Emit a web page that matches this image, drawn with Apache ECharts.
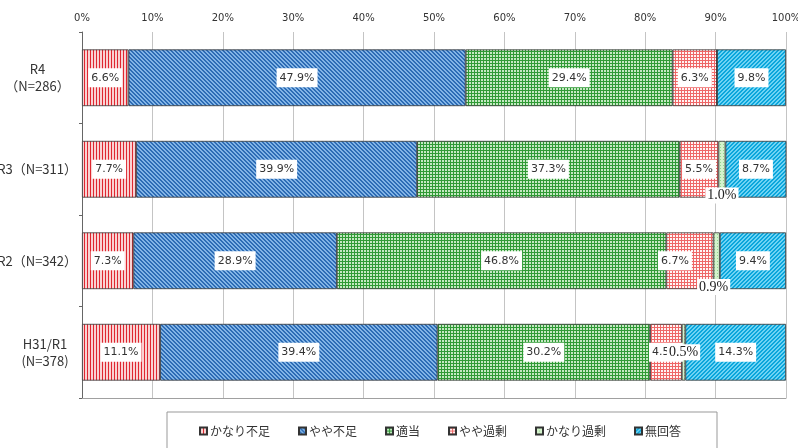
<!DOCTYPE html>
<html>
<head>
<meta charset="utf-8">
<script src="https://cdn.jsdelivr.net/npm/echarts@6/dist/echarts.min.js"></script>
<style>
  html, body { margin: 0; padding: 0; background: #fff; }
  #chart { width: 798px; height: 448px; }
</style>
</head>
<body>
<div id="chart"></div>
<script>
// 年度（上から）
const categories = ['R4', 'R3', 'R2', 'H31/R1'];
const categoryLabels = ['R4\n（N=286）', 'R3（N=311）', 'R2（N=342）', 'H31/R1\n(N=378)'];
const seriesNames = ['かなり不足', 'やや不足', '適当', 'やや過剰', 'かなり過剰', '無回答'];

// 各回答の割合（%）
const kanariFusoku = [6.6, 7.7, 7.3, 11.1];
const yayaFusoku = [47.9, 39.9, 28.9, 39.4];
const tekitou = [29.4, 37.3, 46.8, 30.2];
const yayaKajou = [6.3, 5.5, 6.7, 4.5];
const kanariKajou = [0, 1.0, 0.9, 0.5];
const muKaitou = [9.8, 8.7, 9.4, 14.3];

const xTicks = [0, 10, 20, 30, 40, 50, 60, 70, 80, 90, 100];

// 塗りパターン（小さなcanvasを敷き詰める）
function pattern(w, h, bg, draw) {
  const c = document.createElement('canvas');
  c.width = w; c.height = h;
  const ctx = c.getContext('2d');
  ctx.fillStyle = bg;
  ctx.fillRect(0, 0, w, h);
  draw(ctx);
  return { image: c, repeat: 'repeat' };
}
const fills = [
  // 縦縞 赤
  pattern(3, 3, '#f9d2d2', ctx => { ctx.fillStyle = '#df2730'; ctx.fillRect(0, 0, 1, 3); }),
  // 斜線 青
  pattern(4, 4, '#82b4e6', ctx => {
    ctx.fillStyle = '#2d6cb5';
    for (let i = 0; i < 4; i++) ctx.fillRect(i, i, 1, 1);
    for (let i = 0; i < 4; i++) ctx.fillRect((i + 1) % 4, i, 1, 1);
  }),
  // 格子 緑
  pattern(3, 3, '#c4e8c2', ctx => {
    ctx.fillStyle = '#2f9a35';
    ctx.fillRect(0, 0, 1, 3);
    ctx.fillRect(0, 0, 3, 1);
  }),
  // 格子 ピンク
  pattern(3, 3, '#fff4f4', ctx => {
    ctx.fillStyle = '#ee6767';
    ctx.fillRect(0, 0, 1, 3);
    ctx.fillRect(0, 0, 3, 1);
  }),
  // 薄い緑
  pattern(3, 3, '#d4f3cc', ctx => {
    ctx.fillStyle = '#93d48e';
    ctx.fillRect(0, 0, 1, 1);
  }),
  // 斜線 水色
  pattern(4, 4, '#6fd3f3', ctx => {
    ctx.fillStyle = '#0aa6dc';
    for (let i = 0; i < 4; i++) ctx.fillRect(3 - i, i, 1, 1);
    for (let i = 0; i < 4; i++) ctx.fillRect((4 - i) % 4, i, 1, 1);
  })
];

const pctLabel = {
  show: true,
  position: 'inside',
  formatter: p => p.value.toFixed(1) + '%',
  fontFamily: 'DejaVu Sans',
  fontSize: 11,
  color: '#333',
  backgroundColor: '#fff',
  padding: [4, 3]
};
const serifLabel = {
  fontFamily: 'Liberation Serif',
  fontSize: 14,
  color: '#222',
  padding: [1, 2]
};

const yayaKajouData = yayaKajou.map((v, i) =>
  i === 2 ? { value: v, label: { position: ['50%', '50%'], align: 'center', verticalAlign: 'middle', offset: [-15, 0] } } : v);
const kanariKajouData = kanariKajou.map((v, i) => {
  if (v === 0) return { value: v, label: { show: false } };
  if (i === 1 || i === 2) {
    return { value: v, label: Object.assign({ position: ['50%', '100%'], align: 'center', verticalAlign: 'middle', offset: [i === 2 ? -3 : 0, -2] }, serifLabel) };
  }
  return { value: v, label: serifLabel };
});

const seriesData = [kanariFusoku, yayaFusoku, tekitou, yayaKajouData, kanariKajouData, muKaitou];

const chart = echarts.init(document.getElementById('chart'));
chart.setOption({
  animation: false,
  grid: { left: 82, right: 12, top: 32, bottom: 50, containLabel: false, outerBoundsMode: 'none' },
  legend: {
    data: seriesNames,
    left: 167,
    top: 412,
    padding: [13, 36, 20, 32],
    borderColor: '#999',
    borderWidth: 1,
    itemGap: 28,
    itemWidth: 7,
    itemHeight: 7,
    icon: 'rect',
    textStyle: { fontFamily: 'Noto Sans CJK JP', fontSize: 12, color: '#333', padding: [0, 0, 0, -2] }
  },
  xAxis: [{
    type: 'value',
    position: 'top',
    min: 0,
    max: 100,
    interval: 10,
    axisLine: { show: false },
    axisTick: { show: false },
    axisLabel: {
      formatter: v => (xTicks.includes(v) ? v + '%' : ''),
      fontFamily: 'DejaVu Sans',
      fontSize: 10,
      color: '#333',
      margin: 9
    },
    splitLine: { lineStyle: { color: '#c4c4c4', width: 1 } }
  }, {
    type: 'value',
    position: 'bottom',
    min: 0,
    max: 100,
    axisLine: { show: true, lineStyle: { color: '#a0a0a0' } },
    axisTick: { show: false },
    axisLabel: { show: false },
    splitLine: { show: false }
  }],
  yAxis: {
    type: 'category',
    inverse: true,
    data: categories.map((c, i) => {
      const item = { value: categoryLabels[i] };
      if (i === 0) item.textStyle = { align: 'center', padding: [0, 79, 0, 0] };
      if (i === 3) item.textStyle = { align: 'center', padding: [0, 64, 0, 0] };
      return item;
    }),
    axisLine: { lineStyle: { color: '#666' } },
    axisTick: { show: true, length: 3, lineStyle: { color: '#666' } },
    axisLabel: {
      fontFamily: 'Noto Sans CJK JP',
      fontSize: 13,
      color: '#333',
      lineHeight: 17,
      margin: 5
    }
  },
  series: seriesNames.map((name, k) => ({
    name: name,
    type: 'bar',
    stack: 'total',
    barWidth: '62%',
    xAxisIndex: 0,
    itemStyle: { color: fills[k], borderColor: '#333', borderWidth: 0.8 },
    label: pctLabel,
    data: seriesData[k]
  }))
});
</script>
</body>
</html>
